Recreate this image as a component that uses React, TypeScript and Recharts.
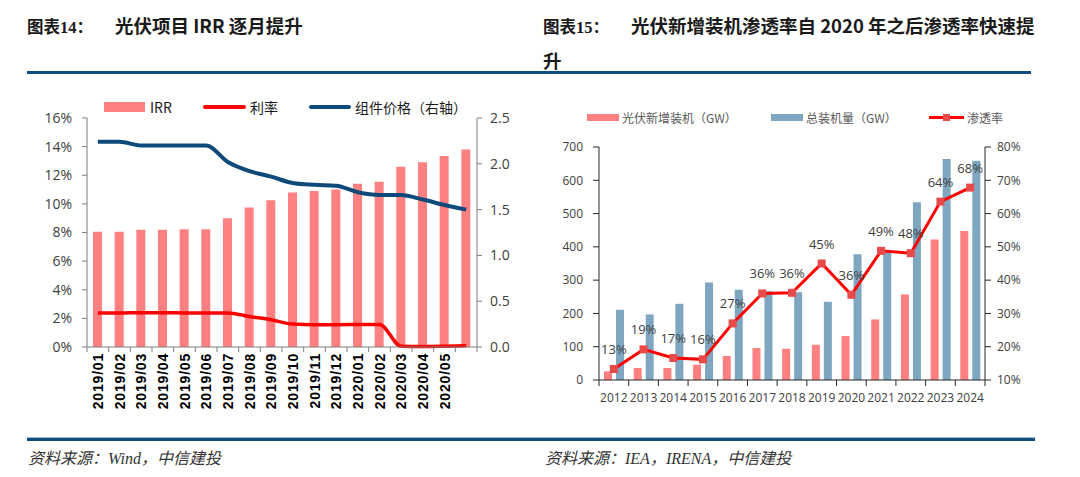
import React from 'react'
import { ComposedChart, Bar, Line, XAxis, YAxis, Legend, LabelList } from 'recharts'

// 图表14：光伏项目 IRR（%）、利率（%）、组件价格（元/W，右轴）
const months = [
  '2019/01', '2019/02', '2019/03', '2019/04', '2019/05', '2019/06',
  '2019/07', '2019/08', '2019/09', '2019/10', '2019/11', '2019/12',
  '2020/01', '2020/02', '2020/03', '2020/04', '2020/05', '2020/06',
]
const irr = [8.05, 8.05, 8.2, 8.2, 8.22, 8.22, 9.0, 9.75, 10.25, 10.8, 10.9, 11.0, 11.4, 11.55, 12.6, 12.9, 13.35, 13.8]
const rate = [2.37, 2.37, 2.4, 2.4, 2.38, 2.38, 2.38, 2.13, 1.9, 1.6, 1.56, 1.56, 1.57, 1.58, 0.05, 0.03, 0.05, 0.08]
const price = [2.24, 2.24, 2.2, 2.2, 2.2, 2.2, 2.02, 1.92, 1.86, 1.79, 1.77, 1.76, 1.69, 1.66, 1.66, 1.61, 1.55, 1.5]
const pctTicks = [0, 2, 4, 6, 8, 10, 12, 14, 16]
const priceTicks = [0, 0.5, 1.0, 1.5, 2.0, 2.5]

// 图表15：光伏新增装机、总装机量（GW）与渗透率（%，右轴）
const years = ['2012', '2013', '2014', '2015', '2016', '2017', '2018', '2019', '2020', '2021', '2022', '2023', '2024']
const newCap = [26, 36, 36, 46, 72, 96, 94, 106, 132, 182, 257, 422, 448]
const totalCap = [211, 197, 229, 293, 271, 267, 264, 235, 378, 385, 534, 664, 659]
const share = [13.3, 19.2, 16.6, 16.2, 27.0, 36.0, 36.2, 45.0, 35.6, 48.8, 48.1, 63.6, 67.8]
const capTicks = [0, 100, 200, 300, 400, 500, 600, 700]
const shareTicks = [10, 20, 30, 40, 50, 60, 70, 80]

const irrData = months.map((month, i) => ({ month, irr: irr[i], rate: rate[i], price: price[i] }))
const capData = years.map((year, i) => ({ year, newCap: newCap[i], totalCap: totalCap[i], share: share[i] }))

const cjk = '"Noto Sans CJK SC", sans-serif'
const axisFont = '"Open Sans", "Noto Sans CJK SC", sans-serif'
const navy = '#0f4c81'

// x 轴刻度线画在类目之间，标签竖排
function MonthTick(props: any) {
  const { x, y, payload, index } = props
  const half = payload?.offset || 10.8
  const last = index === months.length - 1
  return (
    <g>
      <line x1={x - half} x2={x - half} y1={y} y2={y + 5} stroke="#7f7f7f" />
      {last && <line x1={x + half} x2={x + half} y1={y} y2={y + 5} stroke="#7f7f7f" />}
      {!last && (
        <text
          transform={`translate(${x + 5},${y + 6}) rotate(-90)`}
          textAnchor="end"
          fontSize={14}
          fontWeight={700}
          letterSpacing={0.8}
          fontFamily='"Liberation Sans", Arial, sans-serif'
          fill="#000"
        >
          {payload.value}
        </text>
      )}
    </g>
  )
}

function YearTick(props: any) {
  const { x, y, payload, index } = props
  const half = payload?.offset || 14.85
  const last = index === years.length - 1
  return (
    <g>
      <line x1={x - half} x2={x - half} y1={y} y2={y + 6} stroke="#262626" />
      {last && <line x1={x + half} x2={x + half} y1={y} y2={y + 6} stroke="#262626" />}
      <text x={x} y={y + 22} textAnchor="middle" fontSize={12} fontFamily={axisFont} fill="#404040">
        {payload.value}
      </text>
    </g>
  )
}

function LeftLegend() {
  const item = (left: number): React.CSSProperties => ({
    position: 'absolute', left, top: 0, height: 16, display: 'flex', alignItems: 'center',
  })
  const text: React.CSSProperties = { fontSize: 14, color: '#1a1a1a', fontFamily: cjk, whiteSpace: 'nowrap' }
  return (
    <div style={{ position: 'relative', width: 540, height: 16 }}>
      <div style={item(104)}><div style={{ width: 41, height: 10, background: '#ff8080' }} /></div>
      <div style={item(150)}><span style={text}>IRR</span></div>
      <div style={item(203)}><div style={{ width: 43, height: 4, borderRadius: 2, background: '#ff0000' }} /></div>
      <div style={item(250)}><span style={text}>利率</span></div>
      <div style={item(309)}><div style={{ width: 42, height: 4, borderRadius: 2, background: '#0d4a7a' }} /></div>
      <div style={item(355)}><span style={text}>组件价格（右轴）</span></div>
    </div>
  )
}

function RightLegend() {
  const item = (left: number): React.CSSProperties => ({
    position: 'absolute', left, top: 0, height: 16, display: 'flex', alignItems: 'center',
  })
  const text: React.CSSProperties = { fontSize: 12, color: '#595959', fontFamily: cjk, whiteSpace: 'nowrap' }
  return (
    <div style={{ position: 'relative', width: 540, height: 16 }}>
      <div style={item(47)}><div style={{ width: 32, height: 7, background: '#ff8080' }} /></div>
      <div style={item(82)}><span style={text}>光伏新增装机（GW）</span></div>
      <div style={item(231)}><div style={{ width: 32, height: 7, background: '#7ea6c1' }} /></div>
      <div style={item(266)}><span style={text}>总装机量（GW）</span></div>
      <div style={item(389)}>
        <div style={{ position: 'relative', width: 35, height: 16 }}>
          <div style={{ position: 'absolute', left: 0, top: 6.5, width: 35, height: 3, background: '#ff0000' }} />
          <div style={{ position: 'absolute', left: 14, top: 4.5, width: 7, height: 7, background: '#e84a4a' }} />
        </div>
      </div>
      <div style={item(427)}><span style={text}>渗透率</span></div>
    </div>
  )
}

function SquareDot(p: any) {
  return <rect key={`dot-${p.index}`} x={p.cx - 4} y={p.cy - 4} width={8} height={8} fill="#e84a4a" />
}

export default function App() {
  return (
    <div style={{ position: 'absolute', left: 0, top: 0, width: 1080, height: 477, background: '#fff', overflow: 'hidden' }}>
      {/* 标题 */}
      <div style={{ position: 'absolute', left: 27, top: 9, lineHeight: '32px', fontFamily: cjk, fontWeight: 700, color: '#1a1a1a', whiteSpace: 'nowrap' }}>
        <span style={{ fontSize: 16.5 }}>图表<span style={{ fontFamily: '"Liberation Serif", serif' }}>14</span>：</span>
        <span style={{ fontSize: 18.5, marginLeft: 22 }}>光伏项目 IRR 逐月提升</span>
      </div>
      <div style={{ position: 'absolute', left: 543, top: 9, lineHeight: '32px', fontFamily: cjk, fontWeight: 700, color: '#1a1a1a', whiteSpace: 'nowrap' }}>
        <span style={{ fontSize: 16.5 }}>图表<span style={{ fontFamily: '"Liberation Serif", serif' }}>15</span>：</span>
        <span style={{ fontSize: 18.5, marginLeft: 22 }}>光伏新增装机渗透率自 2020 年之后渗透率快速提</span>
        <br />
        <span style={{ fontSize: 18.5 }}>升</span>
      </div>
      <div style={{ position: 'absolute', left: 27, top: 71, width: 1004, height: 3, background: navy }} />

      {/* 图表14 */}
      <div style={{ position: 'absolute', left: 0, top: 100 }}>
        <ComposedChart
          width={540}
          height={330}
          data={irrData}
          margin={{ top: 18, right: 13, bottom: 13, left: 27 }}
          barSize={9}
        >
          <XAxis
            dataKey="month"
            yAxisId="pct"
            interval={0}
            height={70}
            tickSize={0}
            tickMargin={0}
            tickLine={false}
            axisLine={{ stroke: '#7f7f7f' }}
            tick={(p: any) => <MonthTick {...p} />}
          />
          <YAxis
            yAxisId="pct"
            domain={[0, 16]}
            ticks={pctTicks}
            width={60}
            tickSize={5}
            tickMargin={10}
            interval={0}
            axisLine={{ stroke: '#7f7f7f' }}
            tickLine={{ stroke: '#7f7f7f' }}
            tick={{ fill: '#404040', fontSize: 14, fontFamily: axisFont }}
            tickFormatter={(v: number) => `${v}%`}
          />
          <YAxis
            yAxisId="price"
            orientation="right"
            domain={[0, 2.5]}
            ticks={priceTicks}
            width={50}
            tickSize={5}
            tickMargin={8}
            interval={0}
            axisLine={{ stroke: '#7f7f7f' }}
            tickLine={{ stroke: '#7f7f7f' }}
            tick={{ fill: '#404040', fontSize: 14, fontFamily: axisFont, textAnchor: 'start' }}
            tickFormatter={(v: number) => v.toFixed(1)}
          />
          <Bar yAxisId="pct" dataKey="irr" name="IRR" fill="#ff8080" isAnimationActive={false} />
          <Line yAxisId="pct" dataKey="rate" name="利率" type="monotone" stroke="#ff0000" strokeWidth={3.5} dot={false} activeDot={false} isAnimationActive={false} />
          <Line yAxisId="price" dataKey="price" name="组件价格（右轴）" type="monotone" stroke="#0d4a7a" strokeWidth={4} dot={false} activeDot={false} isAnimationActive={false} />
          <Legend
            layout="vertical"
            verticalAlign="middle"
            align="center"
            wrapperStyle={{ top: -1, left: 0, width: 540 }}
            content={() => <LeftLegend />}
          />
        </ComposedChart>
      </div>

      {/* 图表15 */}
      <div style={{ position: 'absolute', left: 540, top: 105 }}>
        <ComposedChart
          width={540}
          height={310}
          data={capData}
          margin={{ top: 42, right: 45, bottom: 10, left: 9 }}
          barSize={8}
          barGap={4}
        >
          <XAxis
            dataKey="year"
            yAxisId="cap"
            interval={0}
            height={25}
            tickSize={0}
            tickMargin={0}
            tickLine={false}
            axisLine={{ stroke: '#262626' }}
            tick={(p: any) => <YearTick {...p} />}
          />
          <YAxis
            yAxisId="cap"
            domain={[0, 700]}
            ticks={capTicks}
            width={50}
            tickSize={6}
            tickMargin={10}
            interval={0}
            axisLine={{ stroke: '#262626' }}
            tickLine={{ stroke: '#262626' }}
            tick={{ fill: '#404040', fontSize: 12, fontFamily: axisFont }}
          />
          <YAxis
            yAxisId="share"
            orientation="right"
            domain={[10, 80]}
            ticks={shareTicks}
            width={50}
            tickSize={6}
            tickMargin={6}
            interval={0}
            axisLine={{ stroke: '#262626' }}
            tickLine={{ stroke: '#262626' }}
            tick={{ fill: '#404040', fontSize: 12, fontFamily: axisFont }}
            tickFormatter={(v: number) => `${v}%`}
          />
          <Bar yAxisId="cap" dataKey="newCap" name="光伏新增装机（GW）" fill="#ff8080" isAnimationActive={false} />
          <Bar yAxisId="cap" dataKey="totalCap" name="总装机量（GW）" fill="#7ea6c1" isAnimationActive={false} />
          <Line
            yAxisId="share"
            dataKey="share"
            name="渗透率"
            type="linear"
            stroke="#ff0000"
            strokeWidth={3}
            dot={SquareDot}
            activeDot={false}
            isAnimationActive={false}
          >
            <LabelList
              dataKey="share"
              position="top"
              offset={15}
              fill="#404040"
              fontSize={13}
              fontFamily={axisFont}
              formatter={(v: any) => `${Math.round(Number(v))}%`}
            />
          </Line>
          <Legend
            layout="vertical"
            verticalAlign="middle"
            align="center"
            wrapperStyle={{ top: 4.6, left: 0, width: 540 }}
            content={() => <RightLegend />}
          />
        </ComposedChart>
      </div>

      {/* 资料来源 */}
      <div style={{ position: 'absolute', left: 27, top: 437, width: 1008, height: 1, background: '#9dbad6' }} />
      <div style={{ position: 'absolute', left: 27, top: 438, width: 1008, height: 3, background: navy }} />
      <div style={{ position: 'absolute', left: 28, top: 449, lineHeight: '20px', fontSize: 16, fontStyle: 'italic', color: '#333', fontFamily: '"Liberation Serif", "Noto Sans CJK SC", serif', whiteSpace: 'nowrap' }}>
        资料来源：Wind，中信建投
      </div>
      <div style={{ position: 'absolute', left: 545, top: 449, lineHeight: '20px', fontSize: 16, fontStyle: 'italic', color: '#333', fontFamily: '"Liberation Serif", "Noto Sans CJK SC", serif', whiteSpace: 'nowrap' }}>
        资料来源：IEA，IRENA，中信建投
      </div>
    </div>
  )
}
